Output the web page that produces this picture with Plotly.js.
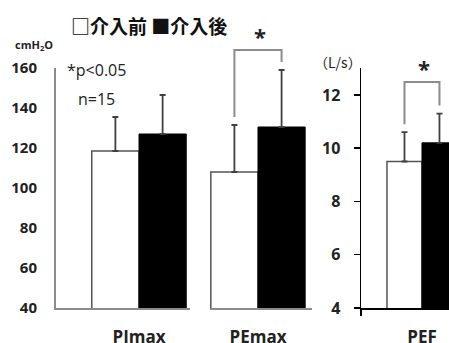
<!DOCTYPE html>
<html>
<head>
<meta charset="utf-8">
<script src="https://cdn.plot.ly/plotly-3.0.1.min.js"></script>
<style>html,body{margin:0;padding:0;background:#fff;}#chart{width:449px;height:343px;}</style>
</head>
<body>
<div id="chart"></div>
<script>
// ---- data ----
const categories = ['PImax', 'PEmax', 'PEF'];
const seriesNames = ['介入前', '介入後'];
const beforeValues = [118.5, 108, 9.5];
const afterValues = [127, 130.5, 10.2];
const beforeErr = [17, 23.5, 1.1];
const afterErr = [19.5, 28.5, 1.1];
const leftTicks = [40, 60, 80, 100, 120, 140, 160];
const rightTicks = [4, 6, 8, 10, 12];
const significant = [false, true, true];

// ---- layout helpers ----
const W = 449, H = 343;
const px = v => v / W;
const py = v => 1 - v / H;
const yDom = [py(308), py(68)];
const leftRange = [40, 160];
const rightRange = [4, 13.01];
const axes = [
  {x: 'x', y: 'y', dom: [px(56), px(190)], range: [-0.703, 0.432], yr: leftRange, line: '#8c8c8c'},
  {x: 'x3', y: 'y', dom: [px(210), px(312)], range: [-0.407, 0.458], yr: leftRange, line: '#8c8c8c'},
  {x: 'x2', y: 'y2', dom: [px(361), 1], range: [-0.697, 0.309], yr: rightRange, line: '#000'}
];
const toPaperY = (v, yr) => yDom[0] + (v - yr[0]) / (yr[1] - yr[0]) * (yDom[1] - yDom[0]);

const data = [];
categories.forEach((c, i) => {
  const a = axes[i];
  data.push({
    type: 'bar', x: [0], y: [beforeValues[i]], name: seriesNames[0],
    xaxis: a.x, yaxis: a.y,
    marker: {color: '#ffffff', line: {color: '#555555', width: 1.5}},
    error_y: {type: 'data', symmetric: false, array: [beforeErr[i]], arrayminus: [0],
              color: '#404040', thickness: 1.8, width: 3},
    showlegend: false, hoverinfo: 'skip'
  });
  data.push({
    type: 'bar', x: [0], y: [afterValues[i]], name: seriesNames[1],
    xaxis: a.x, yaxis: a.y,
    marker: {color: '#000000', line: {color: '#000000', width: 1}},
    error_y: {type: 'data', symmetric: false, array: [afterErr[i]], arrayminus: [0],
              color: '#404040', thickness: 1.8, width: 3},
    showlegend: false, hoverinfo: 'skip'
  });
});

const tickFontCat = {family: 'Open Sans', size: 17, weight: 'bold', color: '#222'};
function xAxis(a, label) {
  return {
    domain: a.dom, range: a.range, anchor: a.y, showline: true, linecolor: a.line, linewidth: 2,
    showgrid: false, zeroline: false, ticks: '', tickvals: [0], ticktext: [label],
    tickfont: tickFontCat, ticklabelstandoff: 13, fixedrange: true
  };
}

const layout = {
  width: W, height: H,
  margin: {l: 0, r: 0, t: 0, b: 0},
  paper_bgcolor: '#fff', plot_bgcolor: 'rgba(0,0,0,0)',
  barmode: 'group', bargap: 0.2, bargroupgap: 0,
  showlegend: false,
  xaxis: xAxis(axes[0], categories[0]),
  xaxis3: xAxis(axes[1], categories[1]),
  xaxis2: Object.assign(xAxis(axes[2], categories[2]), {
    linewidth: 1.5,
    minor: {tickvals: [axes[2].range[0]], ticks: 'outside', ticklen: 6, tickcolor: '#000', tickwidth: 1.5}
  }),
  yaxis: {
    domain: yDom, range: leftRange, anchor: 'x', showline: true, linecolor: '#8c8c8c', linewidth: 2,
    showgrid: false, zeroline: false, ticks: '', tickvals: leftTicks,
    tickfont: {family: 'Open Sans', size: 15, weight: 'bold', color: '#222'},
    ticklabelstandoff: 14, fixedrange: true
  },
  yaxis2: {
    domain: yDom, range: rightRange, anchor: 'x2', showline: true, linecolor: '#000', linewidth: 1.5,
    showgrid: false, zeroline: false, ticks: 'outside', ticklen: 6, tickwidth: 1.5, tickcolor: '#000',
    tickvals: rightTicks,
    tickfont: {family: 'Open Sans', size: 16, weight: 'bold', color: '#222'},
    ticklabelstandoff: 10, fixedrange: true
  },
  shapes: [],
  annotations: [
    {text: '□介入前 ■介入後', xref: 'paper', yref: 'paper', x: px(149), y: py(25),
     xanchor: 'center', yanchor: 'middle', showarrow: false,
     font: {family: 'Noto Sans CJK JP', size: 19, weight: 'bold', color: '#111'}},
    {text: 'cmH<sub>2</sub>O', xref: 'paper', yref: 'paper', x: px(34), y: py(45),
     xanchor: 'center', yanchor: 'middle', showarrow: false,
     font: {family: 'Open Sans', size: 11, weight: 'bold', color: '#222'}},
    {text: '*p<0.05', xref: 'paper', yref: 'paper', x: px(96), y: py(70),
     xanchor: 'center', yanchor: 'middle', showarrow: false,
     font: {family: 'Open Sans', size: 16, color: '#222'}},
    {text: 'n=15', xref: 'paper', yref: 'paper', x: px(96), y: py(99),
     xanchor: 'center', yanchor: 'middle', showarrow: false,
     font: {family: 'Open Sans', size: 16, color: '#222'}},
    {text: '（L/s）', xref: 'paper', yref: 'paper', x: px(338), y: py(62),
     xanchor: 'center', yanchor: 'middle', showarrow: false,
     font: {family: 'Noto Sans CJK JP', size: 14, color: '#222'}}
  ]
};

// significance brackets
const bracketTop = {1: 50, 2: 82};   // pixel rows of bracket tops
const starRow = {1: 36, 2: 68};
categories.forEach((c, i) => {
  if (!significant[i]) return;
  const a = axes[i];
  const gapPx = 8 / H;
  const yTop = py(bracketTop[i]);
  const yL = toPaperY(beforeValues[i] + beforeErr[i], a.yr) + gapPx;
  const yR = toPaperY(afterValues[i] + afterErr[i], a.yr) + gapPx;
  layout.shapes.push({
    type: 'path', xref: a.x, yref: 'paper',
    path: `M -0.2 ${yL} L -0.2 ${yTop} L 0.2 ${yTop} L 0.2 ${yR}`,
    line: {color: '#8c8c8c', width: 2}
  });
  layout.annotations.push({
    text: '*', xref: a.x, yref: 'paper', x: 0.02, y: py(starRow[i]),
    xanchor: 'center', yanchor: 'middle', showarrow: false,
    font: {family: 'Open Sans', size: 22, weight: 'bold', color: '#222'}
  });
});

Plotly.newPlot('chart', data, layout, {displayModeBar: false, staticPlot: true});
</script>
</body>
</html>
